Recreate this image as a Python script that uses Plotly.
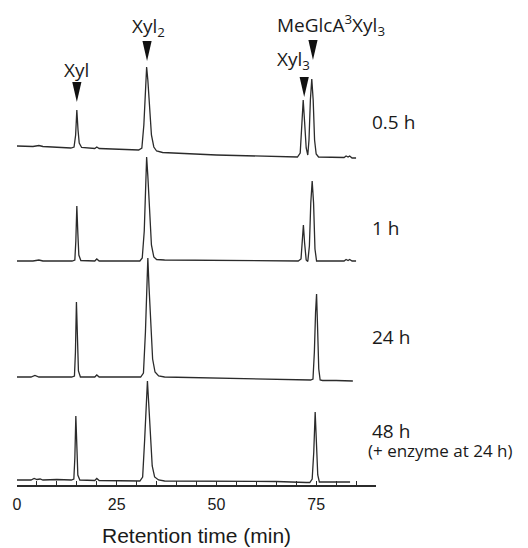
import plotly.graph_objects as go

# ---------------- data ----------------
sample_labels = ["0.5 h", "1 h", "24 h", "48 h"]
sample_note = "(+ enzyme at 24 h)"

# vertical stacking offset of each chromatogram (arbitrary detector units)
offsets = [339, 224, 108, 5]

t_05h = [0, 4, 5.5, 6.5, 13.5, 14.3, 14.7, 15.0, 15.3, 15.6, 16.2, 19.5, 20.0, 20.6,
         30.5, 31.3, 31.8, 32.2, 32.5, 32.8, 33.2, 33.7, 34.3, 35.0, 36.5, 50, 70.3,
         71.0, 71.4, 71.75, 72.1, 72.5, 72.9, 73.2, 73.55, 73.9, 74.25, 74.6, 75.0,
         75.6, 82, 82.5, 83, 83.4, 84, 85]
s_05h = [0, -0.5, 0.5, -0.5, -2, -1, 11, 36, 16, 3, -1.5, -2.5, -1, -2.5,
         -4, -2, 21, 61, 79, 66, 36, 11, -1, -5, -6.5, -9, -11,
         -7, 21, 46, 24, -2, -9, 6, 46, 67, 46, 6, -8,
         -11, -11.5, -10, -11, -10, -12, -12]

t_1h = [0, 4, 5.5, 6.5, 13.8, 14.5, 14.75, 15.0, 15.25, 15.5, 16.0, 19.5, 20.0, 20.6,
        30.8, 31.4, 31.9, 32.2, 32.5, 32.8, 33.2, 33.7, 34.3, 35.0, 37, 50, 70.5,
        71.2, 71.5, 71.8, 72.1, 72.5, 72.9, 73.3, 73.65, 74.0, 74.35, 74.7, 75.1,
        75.8, 82, 82.5, 83, 83.4, 84, 85]
s_1h = [0, 0, 1, 0, 0, 1, 20, 55, 28, 6, 0.5, 0, 2, 0,
        0, 3, 30, 80, 104, 85, 48, 16, 4, 1.5, 1, 0.5, 0,
        2, 20, 36, 18, 1, -0.5, 15, 58, 80, 58, 12, 0,
        0, 0, 1.5, 0.5, 1.5, 0, 0]

t_24h = [0, 3.5, 4.5, 5.5, 10, 13.7, 14.4, 14.65, 14.9, 15.15, 15.4, 15.9, 19.5, 20.0, 20.6,
         31.0, 31.7, 32.2, 32.55, 32.8, 33.1, 33.5, 34.0, 34.6, 35.5, 37, 50, 65,
         73.6, 74.2, 74.55, 74.85, 75.1, 75.35, 75.65, 76.0, 76.6, 80, 84.2]
s_24h = [0, 0, 1.5, 0, 0, 0, 1, 25, 75, 35, 6, 0, 0, 2, 0,
         0, 4, 45, 100, 119, 90, 50, 18, 5, 1, 0, -1, -2,
         -3, -2, 25, 65, 83, 50, 8, -3, -3.5, -3.5, -4]

t_48h = [0, 3.5, 4.3, 5.0, 5.8, 6.5, 10, 13.6, 14.25, 14.5, 14.75, 15.0, 15.25, 15.75,
         19.5, 20.0, 20.6, 30.8, 31.5, 32.0, 32.4, 32.7, 33.0, 33.4, 33.9, 34.5, 35.5,
         37, 50, 65, 72.5, 73.4, 74.0, 74.4, 74.75, 75.05, 75.4, 75.8, 76.5, 80, 83.5]
s_48h = [0, 0, 1.5, 0.5, 1, 0, 0.5, 0, 1, 22, 64, 30, 5, 0,
         -0.5, 1.5, -0.5, -1, 3, 40, 82, 99, 78, 42, 14, 3, 0,
         -1, -1, -1.5, -2.5, -2.5, 1, 28, 68, 38, 5, -2, -2, -2, -2]

times = [t_05h, t_1h, t_24h, t_48h]
signals = [s_05h, s_1h, s_24h, s_48h]

# peak identification markers
peak_names = ["Xyl", "Xyl<sub>2</sub>", "Xyl<sub>3</sub>", "MeGlcA<sup>3</sup>Xyl<sub>3</sub>"]
peak_times = [15.0, 32.6, 72.0, 74.2]
arrow_tips = [383, 424, 388, 425]

x_ticks = [0, 25, 50, 75]

# ---------------- figure ----------------
LINE = "#2b2b2b"
TXT = "#1a1a1a"
LABEL_FONT = "Open Sans"

fig = go.Figure()
for t, s, off in zip(times, signals, offsets):
    fig.add_trace(go.Scatter(
        x=t, y=[v + off for v in s], mode="lines",
        line=dict(color=LINE, width=1.3), showlegend=False, hoverinfo="skip"))

# arrowheads and peak names
tri_h = 20
tri_hw = 1.15
label_dx = [0, 1, -11, 18]
label_gap = [-2, -1, 2, -1]
shapes = []
annotations = []
for name, pt, tip, dx, gap in zip(peak_names, peak_times, arrow_tips, label_dx, label_gap):
    shapes.append(dict(
        type="path", xref="x", yref="y",
        path=f"M {pt - tri_hw},{tip + tri_h} L {pt + tri_hw},{tip + tri_h} L {pt},{tip} Z",
        fillcolor="#111111", line=dict(width=0)))
    annotations.append(dict(
        x=pt, y=tip + tri_h + gap, xref="x", yref="y", text=name, showarrow=False,
        xanchor="center", yanchor="bottom", xshift=dx, borderpad=0,
        font=dict(family=LABEL_FONT, size=19, color=TXT)))

# sample labels on the right
label_y = [363, 257, 148, 54]
for lab, ly in zip(sample_labels, label_y):
    annotations.append(dict(
        x=1.0, y=ly, xref="paper", yref="y", text=lab, showarrow=False,
        xanchor="left", yanchor="middle", xshift=-5, borderpad=0,
        font=dict(family=LABEL_FONT, size=19, color=TXT)))
annotations.append(dict(
    x=1.0, y=35, xref="paper", yref="y", text=sample_note, showarrow=False,
    xanchor="left", yanchor="middle", xshift=-9, borderpad=0,
    font=dict(family=LABEL_FONT, size=17, color=TXT)))

# axis title
annotations.append(dict(
    x=0.5, y=-0.107, xref="paper", yref="paper", text="Retention time (min)",
    showarrow=False, xanchor="center", yanchor="middle",
    font=dict(family="Liberation Sans, Arial", size=21, color=TXT)))

# the page body adds an 8 px margin, so the figure is 8 px smaller on each axis
fig.update_layout(
    width=520, height=540,
    margin=dict(l=9, r=152, t=2, b=63),
    paper_bgcolor="white", plot_bgcolor="white",
    shapes=shapes, annotations=annotations,
    xaxis=dict(
        range=[0, 90], showgrid=False, zeroline=False,
        showline=True, linecolor=LINE, linewidth=1.5,
        ticks="inside", ticklen=4, tickwidth=1.3, tickcolor=LINE,
        tickvals=x_ticks, ticklabelstandoff=4,
        tickfont=dict(family="Liberation Sans, Arial", size=16, color=TXT),
        minor=dict(dtick=5, ticks="inside", ticklen=4, tickwidth=1.3, tickcolor=LINE),
    ),
    yaxis=dict(range=[0, 475], visible=False, showgrid=False, zeroline=False),
)

fig.write_html("out.html")
